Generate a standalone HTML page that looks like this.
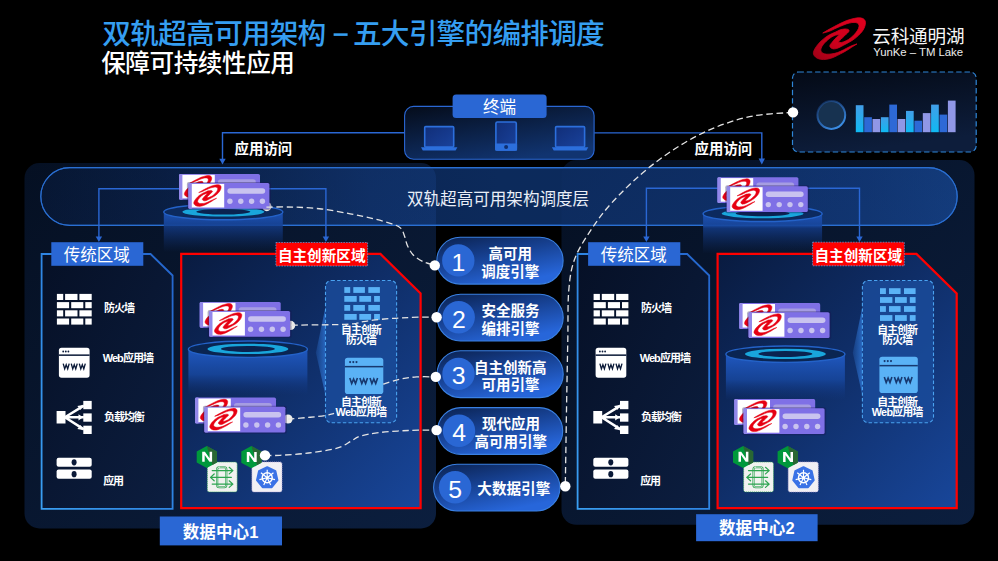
<!DOCTYPE html><html lang="zh-CN"><head><meta charset="utf-8"><title>双轨超高可用架构</title><style>html,body{margin:0;padding:0;background:#000;overflow:hidden}body{width:998px;height:561px;font-family:"Liberation Sans","Noto Sans CJK SC",sans-serif}svg{display:block}svg text{font-family:"Liberation Sans","Noto Sans CJK SC",sans-serif}</style></head><body><svg width="998" height="561" viewBox="0 0 998 561"><defs>
<linearGradient id="gPanel" x1="0" y1="0" x2="1" y2="1"><stop offset="0" stop-color="#0e2c60"/><stop offset="1" stop-color="#2054ac"/></linearGradient>
<linearGradient id="gLayer" x1="0" y1="0" x2="1" y2="0"><stop offset="0" stop-color="#030a18"/><stop offset=".13" stop-color="#051128"/><stop offset=".36" stop-color="#0b2654"/><stop offset=".5" stop-color="#0c2a5b"/><stop offset=".75" stop-color="#0c2a5d"/><stop offset=".9" stop-color="#0e3068"/><stop offset="1" stop-color="#113874"/></linearGradient>
<linearGradient id="gTerm" x1="0" y1="0" x2="0.6" y2="1"><stop offset="0" stop-color="#050c1a"/><stop offset="1" stop-color="#113470"/></linearGradient>
<linearGradient id="gTrad" x1="0" y1="0" x2="1" y2="1"><stop offset="0" stop-color="#061026"/><stop offset="1" stop-color="#0c1e40"/></linearGradient>
<linearGradient id="gRed" x1="0" y1="0" x2="1" y2="1"><stop offset="0" stop-color="#091b40"/><stop offset=".45" stop-color="#0f2d66"/><stop offset="1" stop-color="#18469a"/></linearGradient>
<linearGradient id="gPill" x1="0" y1="0" x2="0.55" y2="1"><stop offset="0" stop-color="#0b2250"/><stop offset=".45" stop-color="#163f8e"/><stop offset="1" stop-color="#2766da"/></linearGradient>
<linearGradient id="gCyl" x1="0" y1="0" x2="0" y2="1"><stop offset="0" stop-color="#2058c0"/><stop offset=".55" stop-color="#17469c" stop-opacity=".9"/><stop offset="1" stop-color="#113680" stop-opacity="0"/></linearGradient>
<linearGradient id="gChart" x1="0" y1="0" x2="0.3" y2="1"><stop offset="0" stop-color="#040a16"/><stop offset="1" stop-color="#0d1d3b"/></linearGradient>
<linearGradient id="gBarC" x1="0" y1="0" x2="0" y2="1"><stop offset="0" stop-color="#429ee8"/><stop offset="1" stop-color="#0fb9f2"/></linearGradient>
<linearGradient id="gLogo" x1="1" y1="0" x2="0" y2="1"><stop offset="0" stop-color="#e0001e"/><stop offset=".6" stop-color="#cc001c"/><stop offset="1" stop-color="#9c0016"/></linearGradient>
<linearGradient id="gRing" x1="0.2" y1="0" x2="0.8" y2="1"><stop offset="0" stop-color="#2a6bd0" stop-opacity=".25"/><stop offset="1" stop-color="#3f97f0"/></linearGradient>
<linearGradient id="gDev" x1="0" y1="0" x2="1" y2="1"><stop offset="0" stop-color="#112e78"/><stop offset="1" stop-color="#19429c"/></linearGradient>
<linearGradient id="gTradB" x1="0" y1="1" x2="1" y2="0"><stop offset="0" stop-color="#3a9ff2"/><stop offset=".5" stop-color="#2f86e4"/><stop offset="1" stop-color="#2464cc"/></linearGradient>
<linearGradient id="gTri" x1="1" y1="0" x2="0" y2="0"><stop offset="0" stop-color="#2a6cc8" stop-opacity=".9"/><stop offset="1" stop-color="#2a6cc8" stop-opacity=".25"/></linearGradient>
<path id="swoosh" d="M-17.0 -5.6C-14.9 -6.8 -12.7 -8.1 -10.7 -9.3C-8.7 -10.4 -6.9 -11.4 -5.0 -12.4C-3.1 -13.4 -1.2 -14.3 0.7 -15.3C2.6 -16.2 4.5 -17.1 6.4 -17.9C8.3 -18.6 10.2 -19.2 12.1 -19.7C14.0 -20.1 16.1 -20.6 17.8 -20.8C19.6 -20.9 21.3 -20.7 22.4 -20.4C23.6 -20.0 24.4 -19.4 24.9 -18.7C25.5 -17.9 25.7 -17.0 25.7 -15.9C25.7 -14.7 25.4 -13.2 24.9 -11.9C24.4 -10.5 23.7 -9.0 22.7 -7.7C21.8 -6.3 20.4 -4.9 19.0 -3.6C17.7 -2.2 16.1 -0.8 14.4 0.4C12.8 1.6 11.1 2.6 9.3 3.6C7.6 4.6 5.9 5.5 4.1 6.4C2.4 7.3 0.6 8.4 -1.0 9.0C-2.5 9.7 -3.8 10.1 -5.0 10.2C-6.1 10.4 -7.0 10.2 -7.8 9.8C-8.6 9.5 -9.5 8.8 -9.8 8.1C-10.1 7.5 -9.9 6.9 -9.6 6.1C-9.2 5.4 -8.5 4.8 -7.8 3.8C-7.0 2.9 -5.9 1.5 -5.0 0.4C-4.0 -0.6 -2.9 -1.6 -2.1 -2.4C-1.2 -3.1 -0.6 -3.4 0.1 -3.9C-1.2 -3.8 -2.5 -3.9 -3.9 -3.6C-5.2 -3.2 -6.4 -2.6 -7.8 -1.9C-9.1 -1.1 -10.5 -0.0 -11.8 1.0C-13.0 2.1 -14.3 3.3 -15.3 4.4C-16.3 5.6 -17.1 6.7 -17.8 7.8C-18.4 9.0 -18.9 10.4 -19.0 11.3C-19.0 12.3 -18.7 12.9 -18.1 13.5C-17.4 14.2 -16.5 14.9 -15.3 15.2C-14.0 15.6 -12.4 15.6 -10.7 15.5C-8.9 15.5 -6.9 15.2 -5.0 14.7C-3.1 14.3 -1.2 13.6 0.7 12.7C2.6 11.9 4.5 10.8 6.4 9.8C8.3 8.9 10.3 7.8 12.1 7.0C13.9 6.3 15.5 5.9 17.2 5.3C15.5 6.4 13.9 7.3 12.1 8.4C10.3 9.6 8.3 11.0 6.4 12.1C4.5 13.3 2.6 14.2 0.7 15.2C-1.2 16.2 -3.1 17.3 -5.0 18.1C-6.9 19.0 -8.8 19.7 -10.7 20.1C-12.6 20.6 -14.5 21.0 -16.4 20.9C-18.3 20.9 -20.5 20.5 -22.1 19.8C-23.6 19.2 -24.7 18.0 -25.5 17.0C-26.2 16.1 -26.5 15.3 -26.4 14.1C-26.3 13.0 -25.6 11.5 -24.9 10.1C-24.1 8.8 -23.1 7.4 -22.1 6.1C-21.0 4.9 -19.9 3.6 -18.7 2.4C-17.4 1.3 -16.0 0.0 -14.7 -1.0C-13.3 -2.0 -12.1 -2.8 -10.7 -3.6C-9.2 -4.4 -7.5 -5.1 -6.1 -5.8C-4.6 -6.4 -3.2 -7.1 -2.1 -7.7C-0.9 -8.2 -0.5 -8.6 0.7 -9.0C2.0 -9.3 4.1 -9.6 5.3 -9.7C6.6 -9.7 7.5 -9.5 8.1 -9.3C8.8 -9.0 9.2 -8.6 9.3 -8.2C9.4 -7.7 9.2 -7.3 8.7 -6.7C8.3 -6.0 7.4 -5.4 6.4 -4.5C5.5 -3.5 4.2 -2.3 3.0 -1.2C1.9 -0.0 0.4 1.4 -0.4 2.2C-1.1 3.1 -1.0 3.3 -1.3 3.8C-0.2 3.8 0.6 4.1 1.8 3.8C3.1 3.6 4.9 2.9 6.4 2.1C8.0 1.4 9.6 0.3 11.0 -0.9C12.5 -2.0 13.9 -3.4 15.0 -4.7C16.2 -5.9 17.1 -7.2 17.8 -8.4C18.5 -9.6 19.1 -10.8 19.2 -11.9C19.4 -12.9 19.3 -14.0 18.7 -14.7C18.2 -15.4 17.2 -15.8 16.1 -16.1C15.0 -16.3 13.8 -16.3 12.1 -16.1C10.5 -15.8 8.3 -15.3 6.4 -14.7C4.5 -14.0 2.6 -13.2 0.7 -12.4C-1.2 -11.6 -3.1 -10.7 -5.0 -9.9C-6.9 -9.0 -8.7 -8.0 -10.7 -7.3C-12.7 -6.5 -14.9 -6.1 -17.0 -5.6Z"/><g id="server"><g transform="translate(-9.4 -9.1)"><rect x="0" y="0" width="81" height="25.8" rx="1.6" fill="#7f70e6"/><rect x="0" y="0" width="4" height="25.8" rx="1.2" fill="#9288ea"/><rect x="3.4" y="0.9" width="32.4" height="23.6" fill="#fff"/><use href="#swoosh" transform="translate(19.2 12.5) scale(.525 .52)" fill="#e60012" stroke="#e60012" stroke-width="1" stroke-linejoin="round"/><rect x="39" y="5.3" width="37.8" height="5.4" rx="2.7" fill="#a69de2"/><circle cx="41.5" cy="18.3" r="2.7" fill="#a69de2"/><circle cx="52.4" cy="18.3" r="2.7" fill="#a69de2"/><circle cx="63.2" cy="18.3" r="2.7" fill="#a69de2"/><circle cx="74.0" cy="18.3" r="2.7" fill="#a69de2"/></g><rect x="-1.5" y="-1" width="84" height="28" rx="2" fill="#1a1250" opacity=".35"/><g transform="translate(0.0 0.0)"><rect x="0" y="0" width="81" height="25.8" rx="1.6" fill="#7f70e6"/><rect x="0" y="0" width="4" height="25.8" rx="1.2" fill="#9288ea"/><rect x="3.4" y="0.9" width="32.4" height="23.6" fill="#fff"/><use href="#swoosh" transform="translate(19.2 12.5) scale(.525 .52)" fill="#e60012" stroke="#e60012" stroke-width="1" stroke-linejoin="round"/><rect x="39" y="5.3" width="37.8" height="5.4" rx="2.7" fill="#c9c3ef"/><circle cx="41.5" cy="18.3" r="2.7" fill="#c9c3ef"/><circle cx="52.4" cy="18.3" r="2.7" fill="#c9c3ef"/><circle cx="63.2" cy="18.3" r="2.7" fill="#c9c3ef"/><circle cx="74.0" cy="18.3" r="2.7" fill="#c9c3ef"/></g></g><g id="cyl">
<path d="M-59.5 0V46H59.5V0Z" fill="url(#gCyl)"/>
<ellipse cx="0" cy="0" rx="59.5" ry="8.2" fill="#0a2552" stroke="#2462c8" stroke-width="1.4"/>
<ellipse cx="0" cy="-0.3" rx="40.5" ry="5.2" fill="#19a6dc"/>
<ellipse cx="0" cy="-0.3" rx="27" ry="3" fill="#0a2350"/>
</g><linearGradient id="gCyl2" x1="0" y1="0" x2="0" y2="1"><stop offset="0" stop-color="#1d52b4"/><stop offset=".32" stop-color="#17459a" stop-opacity=".9"/><stop offset=".36" stop-color="#133a84" stop-opacity=".85"/><stop offset="1" stop-color="#0f2e6c" stop-opacity="0"/></linearGradient>
<g id="cylT">
<path d="M-59.5 0V40H59.5V0Z" fill="url(#gCyl2)"/>
<ellipse cx="0" cy="0" rx="59.5" ry="7.8" fill="#0c2a5e" stroke="#2462c8" stroke-width="1.4"/>
<ellipse cx="0" cy="-0.2" rx="41" ry="4.8" fill="#19a6dc"/>
<ellipse cx="0" cy="-0.2" rx="27" ry="2.8" fill="#0a2350"/>
</g></defs><rect width="998" height="561" fill="#000"/>
<rect x="40.8" y="167.6" width="916.4" height="57.8" rx="28.9" fill="url(#gLayer)" stroke="#2a6fd2" stroke-width="1.1"/>
<rect x="24.5" y="163" width="411.5" height="365.5" rx="15" fill="url(#gPanel)" fill-opacity=".36"/>
<rect x="561.5" y="160" width="413" height="364.8" rx="15" fill="url(#gPanel)" fill-opacity=".36"/>
<rect x="40.8" y="167.6" width="916.4" height="57.8" rx="28.9" fill="none" stroke="#2a6fd2" stroke-width="1.1"/>
<path d="M404.5 132.8H222.5V160M594.2 132.9H761.8V160" fill="none" stroke="#2a67d4" stroke-width="1.4"/>
<path d="M219.3 158.8h6.4l-3.2 5.8zM758.6 158.6h6.4l-3.2 5.8z" fill="#2a67d4"/>
<rect x="404.6" y="106.4" width="189.5" height="52.9" rx="9" fill="url(#gTerm)" stroke="#2a67d4" stroke-width="1.1"/>
<rect x="452.6" y="94.5" width="94" height="23.5" rx="3.5" fill="#2a67d4"/>
<text x="483.0" y="112.7" font-size="16.6" font-weight="400" fill="#fff" textLength="33.2">终端</text>
<rect x="424.7" y="126.6" width="29" height="20.5" rx="1" fill="url(#gDev)" stroke="#2c6fdc" stroke-width="1.6"/><path d="M421.0 147.3h36.4l-1.8 3.2h-32.8z" fill="#2c6fdc"/>
<rect x="555.6" y="126.6" width="29" height="20.5" rx="1" fill="url(#gDev)" stroke="#2c6fdc" stroke-width="1.6"/><path d="M551.9 147.3h36.4l-1.8 3.2h-32.8z" fill="#2c6fdc"/>
<rect x="495.9" y="122" width="20.4" height="28" rx="1.5" fill="url(#gDev)" stroke="#2c6fdc" stroke-width="1.6"/><rect x="495.1" y="143.5" width="22" height="7.3" rx="1" fill="#2c6fdc"/><circle cx="506.1" cy="147.1" r="2" fill="#0f2f70"/>
<text x="234.6" y="153.9" font-size="14.4" font-weight="700" fill="#fff" textLength="57.6">应用访问</text>
<text x="694.6" y="153.9" font-size="14.4" font-weight="700" fill="#fff" textLength="57.6">应用访问</text>
<text x="102.3" y="43.9" font-size="28.7" font-weight="500" fill="#359ef1" textLength="224.0">双轨超高可用架构</text>
<rect x="333.6" y="33.3" width="14" height="2.6" fill="#359ef1"/>
<text x="352.9" y="43.9" font-size="28.7" font-weight="500" fill="#359ef1" textLength="251.9">五大引擎的编排调度</text>
<text x="101.2" y="72.2" font-size="24.6" font-weight="500" fill="#fff" textLength="193.7">保障可持续性应用</text>
<use href="#swoosh" transform="translate(839.76 38.66)" fill="url(#gLogo)" stroke="url(#gLogo)" stroke-width=".8" stroke-linejoin="round"/>
<text x="872.2" y="42.6" font-size="18.6" font-weight="400" fill="#f6f6f6" textLength="92.4">云科通明湖</text>
<text x="873.3" y="56.4" font-size="11.4" font-weight="300" fill="#ececec" textLength="89.8">YunKe – TM Lake</text>
<rect x="792.5" y="72" width="183.7" height="80" rx="6" fill="url(#gChart)" stroke="#2f86d8" stroke-width="1.2" stroke-dasharray="5.4 2.9"/>
<circle cx="831.3" cy="115" r="13.9" fill="#173250" stroke="url(#gRing)" stroke-width="2"/>
<rect x="855.8" y="105.2" width="7.7" height="27.0" fill="url(#gBarC)"/>
<rect x="864.2" y="117.2" width="7.7" height="15.0" fill="#2d69d6"/>
<rect x="872.5" y="119.0" width="7.7" height="13.2" fill="#9097e6"/>
<rect x="880.9" y="117.2" width="7.7" height="15.0" fill="url(#gBarC)"/>
<rect x="889.3" y="104.6" width="7.7" height="27.6" fill="#2d69d6"/>
<rect x="897.6" y="119.0" width="7.7" height="13.2" fill="#9097e6"/>
<rect x="906.0" y="110.9" width="7.7" height="21.3" fill="url(#gBarC)"/>
<rect x="914.4" y="120.7" width="7.7" height="11.5" fill="#2d69d6"/>
<rect x="922.8" y="113.1" width="7.7" height="19.1" fill="#9097e6"/>
<rect x="931.1" y="104.6" width="7.7" height="27.6" fill="url(#gBarC)"/>
<rect x="939.5" y="114.6" width="7.7" height="17.6" fill="#2d69d6"/>
<rect x="947.9" y="100.6" width="7.7" height="31.6" fill="#9097e6"/>
<text x="407.0" y="204.6" font-size="16.6" font-weight="400" fill="#e9eef7" textLength="182.2">双轨超高可用架构调度层</text>
<path d="M190 188.8H98.9V238M268 188.8H325.9V238M728 188.2H646.4V238M806 188.2H859.5V238" fill="none" stroke="#2a67d4" stroke-width="1.4"/>
<path d="M95.7 236.4h6.4l-3.2 5.6zM322.7 236.4h6.4l-3.2 5.6zM643.2 236.4h6.4l-3.2 5.6zM856.3 236.4h6.4l-3.2 5.6z" fill="#2a67d4"/>
<use href="#cylT" x="223.3" y="212.0"/>
<use href="#cylT" x="762.6" y="213.7"/>
<path d="M41.6 254H150.6L172.6 275.5V508.8H41.6Z" fill="url(#gTrad)" stroke="url(#gTradB)" stroke-width="1.8"/>
<path d="M181.2 253.9H380.4L420.6 293.4V508.2H181.2Z" fill="url(#gRed)" stroke="#ff0000" stroke-width="2.2"/>
<path d="M577.6 254H687.2L709.2 275.5V508.8H577.6Z" fill="url(#gTrad)" stroke="url(#gTradB)" stroke-width="1.8"/>
<path d="M717.6 253.9H916.5L956.7 293.4V508.2H717.6Z" fill="url(#gRed)" stroke="#ff0000" stroke-width="2.2"/>
<rect x="51.3" y="242.2" width="92" height="23.6" fill="#2a67d4"/>
<rect x="588.1" y="242.2" width="92.2" height="23.6" fill="#2a67d4"/>
<text x="63.7" y="260.5" font-size="16.5" font-weight="400" fill="#fff" textLength="66.0">传统区域</text>
<text x="600.7" y="260.5" font-size="16.5" font-weight="400" fill="#fff" textLength="66.0">传统区域</text>
<rect x="275.9" y="242.5" width="91.7" height="23.5" fill="#ff0000" stroke="#62aef0" stroke-width=".7" stroke-dasharray="1.5 1.2"/>
<rect x="812.6" y="242.2" width="91.7" height="23.6" fill="#ff0000" stroke="#62aef0" stroke-width=".7" stroke-dasharray="1.5 1.2"/>
<text x="277.9" y="261.4" font-size="14.6" font-weight="700" fill="#fff" textLength="87.6">自主创新区域</text>
<text x="814.5" y="261.1" font-size="14.6" font-weight="700" fill="#fff" textLength="87.6">自主创新区域</text>
<g fill="#fff"><rect x="56.9" y="293.9" width="6.3" height="6.1"/><rect x="65.1" y="293.9" width="12.4" height="6.1"/><rect x="79.4" y="293.9" width="12.3" height="6.1"/><rect x="56.9" y="302.1" width="12.2" height="6.1"/><rect x="71.2" y="302.1" width="12.1" height="6.1"/><rect x="85.3" y="302.1" width="6.4" height="6.1"/><rect x="56.9" y="310.3" width="6.3" height="6.1"/><rect x="65.1" y="310.3" width="12.4" height="6.1"/><rect x="79.4" y="310.3" width="12.3" height="6.1"/><rect x="56.9" y="318.5" width="12.2" height="6.1"/><rect x="71.2" y="318.5" width="12.1" height="6.1"/><rect x="85.3" y="318.5" width="6.4" height="6.1"/><rect x="58.9" y="347.8" width="30.7" height="29.9" rx="2.6"/><rect x="56.6" y="457.8" width="35.1" height="9" rx="2"/><rect x="56.6" y="469.6" width="35.1" height="9.2" rx="2"/><rect x="56.6" y="411" width="8.9" height="12.5"/><rect x="83.3" y="400.9" width="8.4" height="8.3"/><rect x="83.3" y="413.4" width="8.4" height="8.3"/><rect x="83.3" y="425.7" width="8.4" height="8.3"/></g><g stroke="#fff" stroke-width="2.5" fill="none"><path d="M64.9 417.3H83.9M64.9 417.3L83.9 405.6M64.9 417.3L83.9 429.4"/></g><g fill="#fff"><path d="M78.5 414.2l4.6 3.1l-4.6 3.1z"/><path d="M82.9 405.0l-5.6 0.9l3.4 4.2z"/><path d="M82.9 430.0l-5.6 -0.9l3.4 -4.2z"/></g><g fill="#0b1a38"><rect x="58.9" y="354.4" width="30.7" height="1.5"/><circle cx="63.2" cy="351.5" r=".9"/><circle cx="65.8" cy="351.5" r=".9"/><circle cx="68.4" cy="351.5" r=".9"/><ellipse cx="74.1" cy="462.3" rx="2.5" ry="3.1"/><ellipse cx="74.1" cy="474.2" rx="2.5" ry="3.1"/></g><g fill="none" stroke="#0b1a38" stroke-width="1.35" stroke-linejoin="miter"><path d="M63.20 363.6l1.5 5.3l1.5 -4.2l1.5 4.2l1.5 -5.3"/><path d="M71.25 363.6l1.5 5.3l1.5 -4.2l1.5 4.2l1.5 -5.3"/><path d="M79.30 363.6l1.5 5.3l1.5 -4.2l1.5 4.2l1.5 -5.3"/></g>
<g fill="#fff"><rect x="593.6" y="293.9" width="6.3" height="6.1"/><rect x="601.8" y="293.9" width="12.4" height="6.1"/><rect x="616.1" y="293.9" width="12.3" height="6.1"/><rect x="593.6" y="302.1" width="12.2" height="6.1"/><rect x="607.9" y="302.1" width="12.1" height="6.1"/><rect x="622.0" y="302.1" width="6.4" height="6.1"/><rect x="593.6" y="310.3" width="6.3" height="6.1"/><rect x="601.8" y="310.3" width="12.4" height="6.1"/><rect x="616.1" y="310.3" width="12.3" height="6.1"/><rect x="593.6" y="318.5" width="12.2" height="6.1"/><rect x="607.9" y="318.5" width="12.1" height="6.1"/><rect x="622.0" y="318.5" width="6.4" height="6.1"/><rect x="595.6" y="347.8" width="30.7" height="29.9" rx="2.6"/><rect x="593.3" y="457.8" width="35.1" height="9" rx="2"/><rect x="593.3" y="469.6" width="35.1" height="9.2" rx="2"/><rect x="593.3" y="411" width="8.9" height="12.5"/><rect x="620.0" y="400.9" width="8.4" height="8.3"/><rect x="620.0" y="413.4" width="8.4" height="8.3"/><rect x="620.0" y="425.7" width="8.4" height="8.3"/></g><g stroke="#fff" stroke-width="2.5" fill="none"><path d="M601.6 417.3H620.6M601.6 417.3L620.6 405.6M601.6 417.3L620.6 429.4"/></g><g fill="#fff"><path d="M615.2 414.2l4.6 3.1l-4.6 3.1z"/><path d="M619.6 405.0l-5.6 0.9l3.4 4.2z"/><path d="M619.6 430.0l-5.6 -0.9l3.4 -4.2z"/></g><g fill="#0b1a38"><rect x="595.6" y="354.4" width="30.7" height="1.5"/><circle cx="599.9" cy="351.5" r=".9"/><circle cx="602.5" cy="351.5" r=".9"/><circle cx="605.1" cy="351.5" r=".9"/><ellipse cx="610.8" cy="462.3" rx="2.5" ry="3.1"/><ellipse cx="610.8" cy="474.2" rx="2.5" ry="3.1"/></g><g fill="none" stroke="#0b1a38" stroke-width="1.35" stroke-linejoin="miter"><path d="M599.90 363.6l1.5 5.3l1.5 -4.2l1.5 4.2l1.5 -5.3"/><path d="M607.95 363.6l1.5 5.3l1.5 -4.2l1.5 4.2l1.5 -5.3"/><path d="M616.00 363.6l1.5 5.3l1.5 -4.2l1.5 4.2l1.5 -5.3"/></g>
<text x="104.0" y="311.8" font-size="11.0" font-weight="700" fill="#fff" textLength="30.9">防火墙</text>
<text x="102.7" y="361.5" font-size="11.0" font-weight="700" fill="#fff" textLength="51.3">Web应用墙</text>
<text x="104.0" y="421.0" font-size="11.0" font-weight="700" fill="#fff" textLength="40.8">负载均衡</text>
<text x="103.2" y="485.3" font-size="11.0" font-weight="700" fill="#fff" textLength="20.9">应用</text>
<text x="641.0" y="311.8" font-size="11.0" font-weight="700" fill="#fff" textLength="30.9">防火墙</text>
<text x="639.7" y="361.5" font-size="11.0" font-weight="700" fill="#fff" textLength="51.3">Web应用墙</text>
<text x="641.0" y="421.0" font-size="11.0" font-weight="700" fill="#fff" textLength="40.8">负载均衡</text>
<text x="640.2" y="485.3" font-size="11.0" font-weight="700" fill="#fff" textLength="20.9">应用</text>
<use href="#cyl" x="247.9" y="349.2"/>
<path d="M325.5 307L315.9 352.7L325.5 395.4Z" fill="url(#gTri)"/>
<rect x="325.5" y="280.5" width="71.1" height="142.2" rx="6" fill="#1a4b9a" fill-opacity=".85" stroke="#4aa2f0" stroke-width="1.1" stroke-dasharray="3.4 2.2"/>
<g fill="#5ab2f6"><rect x="344.3" y="287.1" width="5.9" height="5.8"/><rect x="353.3" y="287.1" width="11.6" height="5.8"/><rect x="368.3" y="287.1" width="11.6" height="5.8"/><rect x="344.3" y="296.0" width="12.4" height="5.8"/><rect x="359.3" y="296.0" width="11.8" height="5.8"/><rect x="374.1" y="296.0" width="5.8" height="5.8"/><rect x="344.3" y="305.0" width="5.9" height="5.8"/><rect x="353.3" y="305.0" width="11.6" height="5.8"/><rect x="368.3" y="305.0" width="11.6" height="5.8"/><rect x="344.3" y="314.0" width="12.4" height="5.8"/><rect x="359.3" y="314.0" width="11.8" height="5.8"/><rect x="374.1" y="314.0" width="5.8" height="5.8"/><rect x="344.9" y="357.8" width="38.4" height="36.2" rx="2.8"/></g><g transform="translate(0 0.0)"><g fill="#17386f"><rect x="344.9" y="365.9" width="38.4" height="1.5"/><circle cx="350.1" cy="362.1" r="1.05"/><circle cx="353.3" cy="362.1" r="1.05"/><circle cx="356.5" cy="362.1" r="1.05"/></g><g fill="none" stroke="#17386f" stroke-width="1.6" stroke-linejoin="miter"><path d="M349.80 377.9l1.9 5.6l1.9 -4.4l1.9 4.4l1.9 -5.6"/><path d="M359.90 377.9l1.9 5.6l1.9 -4.4l1.9 4.4l1.9 -5.6"/><path d="M370.00 377.9l1.9 5.6l1.9 -4.4l1.9 4.4l1.9 -5.6"/></g></g>
<text x="341.0" y="334.0" font-size="10.8" font-weight="700" fill="#fff" textLength="40.8">自主创新</text>
<text x="346.0" y="344.0" font-size="10.8" font-weight="700" fill="#fff" textLength="30.8">防火墙</text>
<text x="341.0" y="405.9" font-size="10.8" font-weight="700" fill="#fff" textLength="40.8">自主创新</text>
<text x="335.6" y="415.9" font-size="10.8" font-weight="700" fill="#fff" textLength="51.5">Web应用墙</text>
<use href="#cyl" x="785.4" y="354.2"/>
<path d="M862.4 307L852.8 352.7L862.4 395.4Z" fill="url(#gTri)"/>
<rect x="862.4" y="280.5" width="71.1" height="142.2" rx="6" fill="#1a4b9a" fill-opacity=".85" stroke="#4aa2f0" stroke-width="1.1" stroke-dasharray="3.4 2.2"/>
<g fill="#5ab2f6"><rect x="880.0" y="288.2" width="5.9" height="5.8"/><rect x="889.0" y="288.2" width="11.6" height="5.8"/><rect x="904.0" y="288.2" width="11.6" height="5.8"/><rect x="880.0" y="297.1" width="12.4" height="5.8"/><rect x="895.0" y="297.1" width="11.8" height="5.8"/><rect x="909.8" y="297.1" width="5.8" height="5.8"/><rect x="880.0" y="306.1" width="5.9" height="5.8"/><rect x="889.0" y="306.1" width="11.6" height="5.8"/><rect x="904.0" y="306.1" width="11.6" height="5.8"/><rect x="880.0" y="315.1" width="12.4" height="5.8"/><rect x="895.0" y="315.1" width="11.8" height="5.8"/><rect x="909.8" y="315.1" width="5.8" height="5.8"/><rect x="879.4" y="356.8" width="38.4" height="36.2" rx="2.8"/></g><g transform="translate(0 -1.0)"><g fill="#17386f"><rect x="879.4" y="365.9" width="38.4" height="1.5"/><circle cx="884.6" cy="362.1" r="1.05"/><circle cx="887.8" cy="362.1" r="1.05"/><circle cx="891.0" cy="362.1" r="1.05"/></g><g fill="none" stroke="#17386f" stroke-width="1.6" stroke-linejoin="miter"><path d="M884.30 377.9l1.9 5.6l1.9 -4.4l1.9 4.4l1.9 -5.6"/><path d="M894.40 377.9l1.9 5.6l1.9 -4.4l1.9 4.4l1.9 -5.6"/><path d="M904.50 377.9l1.9 5.6l1.9 -4.4l1.9 4.4l1.9 -5.6"/></g></g>
<text x="877.2" y="334.0" font-size="10.8" font-weight="700" fill="#fff" textLength="40.8">自主创新</text>
<text x="882.2" y="344.0" font-size="10.8" font-weight="700" fill="#fff" textLength="30.8">防火墙</text>
<text x="877.2" y="405.9" font-size="10.8" font-weight="700" fill="#fff" textLength="40.8">自主创新</text>
<text x="871.8" y="415.9" font-size="10.8" font-weight="700" fill="#fff" textLength="51.5">Web应用墙</text>
<rect x="207.3" y="462" width="29.9" height="29.9" rx="2" fill="#f1f2f0" stroke="#2da050" stroke-width=".7" stroke-dasharray="1.2 .8"/><rect x="251.9" y="462" width="30.1" height="29.9" rx="2" fill="#f1f0f4" stroke="#b8a8d8" stroke-width=".7" stroke-dasharray="1.2 .8"/><g fill="none" stroke="#2da450" stroke-linecap="round" stroke-linejoin="round" transform="translate(207.3 462)"><rect x="9.9" y="5.2" width="9.1" height="20" rx="2" stroke-width="2.1"/><rect x="9.9" y="5.2" width="9.1" height="20" rx="2" stroke="#f1f2f0" stroke-width=".7"/><path stroke-width="1.25" d="M4.9 8.6H25.4M21.9 5.3l3.7 3.3l-3.7 3.3M24 15.4H3.3M6.9 12L3.2 15.4l3.7 3.4M4.9 22.1H25.4M21.9 18.8l3.7 3.3l-3.7 3.3"/></g><path d="M267.2 467.1L275.5 471.1L277.5 480.1L271.8 487.3L262.6 487.3L256.9 480.1L258.9 471.1Z" fill="#3a72e6" stroke="#3a72e6" stroke-width="1.8" stroke-linejoin="round"/><g stroke="#fff" fill="none" transform="translate(267.2 477.8)"><circle r="5" stroke-width="1.5"/><path d="M0 0L0.00 -8.00" stroke-width="1.15"/><path d="M0 0L6.25 -4.99" stroke-width="1.15"/><path d="M0 0L7.80 1.78" stroke-width="1.15"/><path d="M0 0L3.47 7.21" stroke-width="1.15"/><path d="M0 0L-3.47 7.21" stroke-width="1.15"/><path d="M0 0L-7.80 1.78" stroke-width="1.15"/><path d="M0 0L-6.25 -4.99" stroke-width="1.15"/><circle r="1.5" fill="#fff" stroke="none"/></g><path d="M206.8 445.9L216.9 451.4L216.9 462.6L206.8 468.1L196.7 462.6L196.7 451.4Z" fill="#00983b"/><path d="M206.8 445.9L216.9 451.4L216.9 462.6L212.4 464.9Z" fill="#2a6633"/><path transform="translate(202.2 451.7)" d="M0 0h2.7l4.7 6.6v-6.6h2.5v10.1h-2.7l-4.7 -6.7v6.7h-2.5z" fill="#fff"/><path d="M251.4 446.1L261.5 451.6L261.5 462.8L251.4 468.3L241.3 462.8L241.3 451.6Z" fill="#00983b"/><path d="M251.4 446.1L261.5 451.6L261.5 462.8L257.0 465.1Z" fill="#2a6633"/><path transform="translate(246.8 451.9)" d="M0 0h2.7l4.7 6.6v-6.6h2.5v10.1h-2.7l-4.7 -6.7v6.7h-2.5z" fill="#fff"/>
<rect x="743.6" y="462" width="29.9" height="29.9" rx="2" fill="#f1f2f0" stroke="#2da050" stroke-width=".7" stroke-dasharray="1.2 .8"/><rect x="788.2" y="462" width="30.1" height="29.9" rx="2" fill="#f1f0f4" stroke="#b8a8d8" stroke-width=".7" stroke-dasharray="1.2 .8"/><g fill="none" stroke="#2da450" stroke-linecap="round" stroke-linejoin="round" transform="translate(743.6 462)"><rect x="9.9" y="5.2" width="9.1" height="20" rx="2" stroke-width="2.1"/><rect x="9.9" y="5.2" width="9.1" height="20" rx="2" stroke="#f1f2f0" stroke-width=".7"/><path stroke-width="1.25" d="M4.9 8.6H25.4M21.9 5.3l3.7 3.3l-3.7 3.3M24 15.4H3.3M6.9 12L3.2 15.4l3.7 3.4M4.9 22.1H25.4M21.9 18.8l3.7 3.3l-3.7 3.3"/></g><path d="M803.5 467.1L811.8 471.1L813.8 480.1L808.1 487.3L798.9 487.3L793.2 480.1L795.2 471.1Z" fill="#3a72e6" stroke="#3a72e6" stroke-width="1.8" stroke-linejoin="round"/><g stroke="#fff" fill="none" transform="translate(803.5 477.8)"><circle r="5" stroke-width="1.5"/><path d="M0 0L0.00 -8.00" stroke-width="1.15"/><path d="M0 0L6.25 -4.99" stroke-width="1.15"/><path d="M0 0L7.80 1.78" stroke-width="1.15"/><path d="M0 0L3.47 7.21" stroke-width="1.15"/><path d="M0 0L-3.47 7.21" stroke-width="1.15"/><path d="M0 0L-7.80 1.78" stroke-width="1.15"/><path d="M0 0L-6.25 -4.99" stroke-width="1.15"/><circle r="1.5" fill="#fff" stroke="none"/></g><path d="M743.1 445.9L753.2 451.4L753.2 462.6L743.1 468.1L733.0 462.6L733.0 451.4Z" fill="#00983b"/><path d="M743.1 445.9L753.2 451.4L753.2 462.6L748.7 464.9Z" fill="#2a6633"/><path transform="translate(738.5 451.7)" d="M0 0h2.7l4.7 6.6v-6.6h2.5v10.1h-2.7l-4.7 -6.7v6.7h-2.5z" fill="#fff"/><path d="M787.7 446.1L797.8 451.6L797.8 462.8L787.7 468.3L777.6 462.8L777.6 451.6Z" fill="#00983b"/><path d="M787.7 446.1L797.8 451.6L797.8 462.8L793.3 465.1Z" fill="#2a6633"/><path transform="translate(783.1 451.9)" d="M0 0h2.7l4.7 6.6v-6.6h2.5v10.1h-2.7l-4.7 -6.7v6.7h-2.5z" fill="#fff"/>
<circle cx="266.8" cy="206.6" r="4.6" fill="#eeeeea"/>
<circle cx="290.6" cy="325.4" r="4.6" fill="#eeeeea"/>
<circle cx="288.0" cy="419.0" r="4.6" fill="#eeeeea"/>
<use href="#server" x="188.4" y="183.0"/>
<use href="#server" x="726.8" y="186.3"/>
<use href="#server" x="209.1" y="311.0"/>
<use href="#server" x="204.4" y="406.7"/>
<use href="#server" x="748.6" y="312.2"/>
<use href="#server" x="743.6" y="408.2"/>
<rect x="436.8" y="237.3" width="126.3" height="46.8" rx="23.4" fill="url(#gPill)" stroke="#3a80e2" stroke-width="1.1"/>
<circle cx="458.3" cy="260.4" r="16.2" fill="#2a67d4"/>
<text x="451.5" y="270.6" font-size="24.8" font-weight="500" fill="#fff">1</text>
<text x="488.5" y="259.0" font-size="14.5" font-weight="700" fill="#fff" textLength="43.5">高可用</text>
<text x="481.2" y="276.6" font-size="14.5" font-weight="700" fill="#fff" textLength="58.0">调度引擎</text>
<rect x="437.2" y="294.2" width="126.0" height="46.8" rx="23.4" fill="url(#gPill)" stroke="#3a80e2" stroke-width="1.1"/>
<circle cx="458.7" cy="317.3" r="16.2" fill="#2a67d4"/>
<text x="451.9" y="327.5" font-size="24.8" font-weight="500" fill="#fff">2</text>
<text x="481.6" y="315.9" font-size="14.5" font-weight="700" fill="#fff" textLength="58.0">安全服务</text>
<text x="481.6" y="333.5" font-size="14.5" font-weight="700" fill="#fff" textLength="58.0">编排引擎</text>
<rect x="437.0" y="350.8" width="126.2" height="46.8" rx="23.4" fill="url(#gPill)" stroke="#3a80e2" stroke-width="1.1"/>
<circle cx="458.5" cy="373.9" r="16.2" fill="#2a67d4"/>
<text x="451.7" y="384.1" font-size="24.8" font-weight="500" fill="#fff">3</text>
<text x="474.1" y="372.5" font-size="14.5" font-weight="700" fill="#fff" textLength="72.5">自主创新高</text>
<text x="481.4" y="390.1" font-size="14.5" font-weight="700" fill="#fff" textLength="58.0">可用引擎</text>
<rect x="437.5" y="407.6" width="125.2" height="46.8" rx="23.4" fill="url(#gPill)" stroke="#3a80e2" stroke-width="1.1"/>
<circle cx="459.0" cy="430.7" r="16.2" fill="#2a67d4"/>
<text x="452.2" y="440.9" font-size="24.8" font-weight="500" fill="#fff">4</text>
<text x="481.9" y="429.3" font-size="14.5" font-weight="700" fill="#fff" textLength="58.0">现代应用</text>
<text x="474.6" y="446.9" font-size="14.5" font-weight="700" fill="#fff" textLength="72.5">高可用引擎</text>
<rect x="433.6" y="464.2" width="126.4" height="46.8" rx="23.4" fill="url(#gPill)" stroke="#3a80e2" stroke-width="1.1"/>
<circle cx="455.1" cy="487.3" r="16.2" fill="#2a67d4"/>
<text x="448.3" y="497.5" font-size="24.8" font-weight="500" fill="#fff">5</text>
<text x="477.3" y="493.9" font-size="14.6" font-weight="700" fill="#fff" textLength="73.0">大数据引擎</text>
<path d="M266.4 207.1C270.8 207.1 283.9 206.8 293.1 207.1C302.3 207.4 312.1 207.9 321.6 209.0C331.1 210.1 341.6 212.2 350.2 213.8C358.8 215.4 366.0 216.9 373.0 218.6C380.0 220.3 387.4 222.3 392.0 223.9C396.6 225.5 398.5 226.1 400.6 228.1C402.7 230.1 403.3 232.8 404.4 235.7C405.5 238.5 405.9 242.0 407.3 245.2C408.7 248.4 410.5 252.0 413.0 254.7C415.5 257.4 419.0 259.6 422.5 261.4C426.0 263.1 432.1 264.6 434.0 265.2" fill="none" stroke="#e4e4e4" stroke-width="1.3" stroke-dasharray="6.5 3.6"/>
<path d="M291.4 325.1C296.6 325.1 313.8 324.9 322.7 324.8C331.6 324.7 339.4 324.6 345.0 324.4C350.6 324.2 353.0 323.8 356.0 323.4C359.0 322.9 360.2 322.2 363.0 321.7C365.8 321.2 368.8 320.7 373.0 320.2C377.2 319.7 383.5 319.1 388.3 318.7C393.1 318.3 397.1 318.1 402.0 317.9C406.9 317.6 412.3 317.3 418.0 317.2C423.7 317.1 433.2 317.1 436.2 317.1" fill="none" stroke="#e4e4e4" stroke-width="1.3" stroke-dasharray="6.5 3.6"/>
<path d="M383.2 384.1C385.9 383.3 394.1 380.4 399.7 379.2C405.3 378.0 410.7 377.3 416.8 376.9C422.9 376.5 433.0 376.9 436.2 376.9" fill="none" stroke="#e4e4e4" stroke-width="1.3" stroke-dasharray="6.5 3.6"/>
<path d="M288.0 419.1C291.4 418.8 302.2 418.0 308.5 417.4C314.8 416.8 321.3 416.1 325.6 415.4C329.9 414.7 332.7 413.7 334.1 413.4" fill="none" stroke="#e4e4e4" stroke-width="1.3" stroke-dasharray="6.5 3.6"/>
<path d="M265.0 455.4C267.5 455.4 272.8 455.7 280.0 455.3C287.2 454.9 299.0 454.2 308.5 453.0C318.0 451.8 329.9 450.2 337.0 448.2C344.1 446.2 347.4 443.1 351.2 441.1C355.0 439.1 355.1 437.6 359.8 436.2C364.6 434.8 371.6 433.4 379.7 432.5C387.8 431.6 398.8 430.9 408.2 430.5C417.6 430.1 431.5 430.1 436.2 430.0" fill="none" stroke="#e4e4e4" stroke-width="1.3" stroke-dasharray="6.5 3.6"/>
<path d="M793.0 112.3C786.6 112.9 765.7 113.8 754.5 115.7C743.3 117.6 735.5 120.1 726.0 123.4C716.5 126.7 707.0 130.7 697.5 135.6C688.0 140.5 678.5 146.2 669.0 152.7C659.5 159.2 650.0 166.4 640.5 174.7C631.0 183.0 620.1 193.7 612.0 202.6C603.9 211.5 598.3 219.0 592.1 228.3C585.9 237.6 578.9 247.9 575.0 258.2C571.1 268.5 570.0 276.4 568.8 290.0C567.6 303.6 568.2 320.0 567.8 340.0C567.4 360.0 566.9 385.6 566.5 410.0C566.1 434.4 565.5 473.6 565.3 486.3" fill="none" stroke="#e4e4e4" stroke-width="1.3" stroke-dasharray="6.5 3.6"/>
<circle cx="434.8" cy="265.4" r="5.2" fill="#fff"/>
<circle cx="436.6" cy="317.2" r="5.2" fill="#fff"/>
<circle cx="435.8" cy="376.9" r="5.2" fill="#fff"/>
<circle cx="436.6" cy="430.1" r="5.2" fill="#fff"/>
<circle cx="565.3" cy="486.3" r="5.2" fill="#fff"/>
<circle cx="793.0" cy="112.4" r="5.2" fill="#fff"/>
<circle cx="265.0" cy="455.4" r="5.2" fill="#fff"/>
<rect x="159.8" y="516.5" width="122.2" height="28.9" fill="#2a67d4"/>
<rect x="696.1" y="514.2" width="121.5" height="27" fill="#2a67d4"/>
<text x="182.7" y="537.5" font-size="16.5" font-weight="700" fill="#fff" textLength="75.7">数据中心1</text>
<text x="718.9" y="534.2" font-size="16.5" font-weight="700" fill="#fff" textLength="75.7">数据中心2</text></svg></body></html>
